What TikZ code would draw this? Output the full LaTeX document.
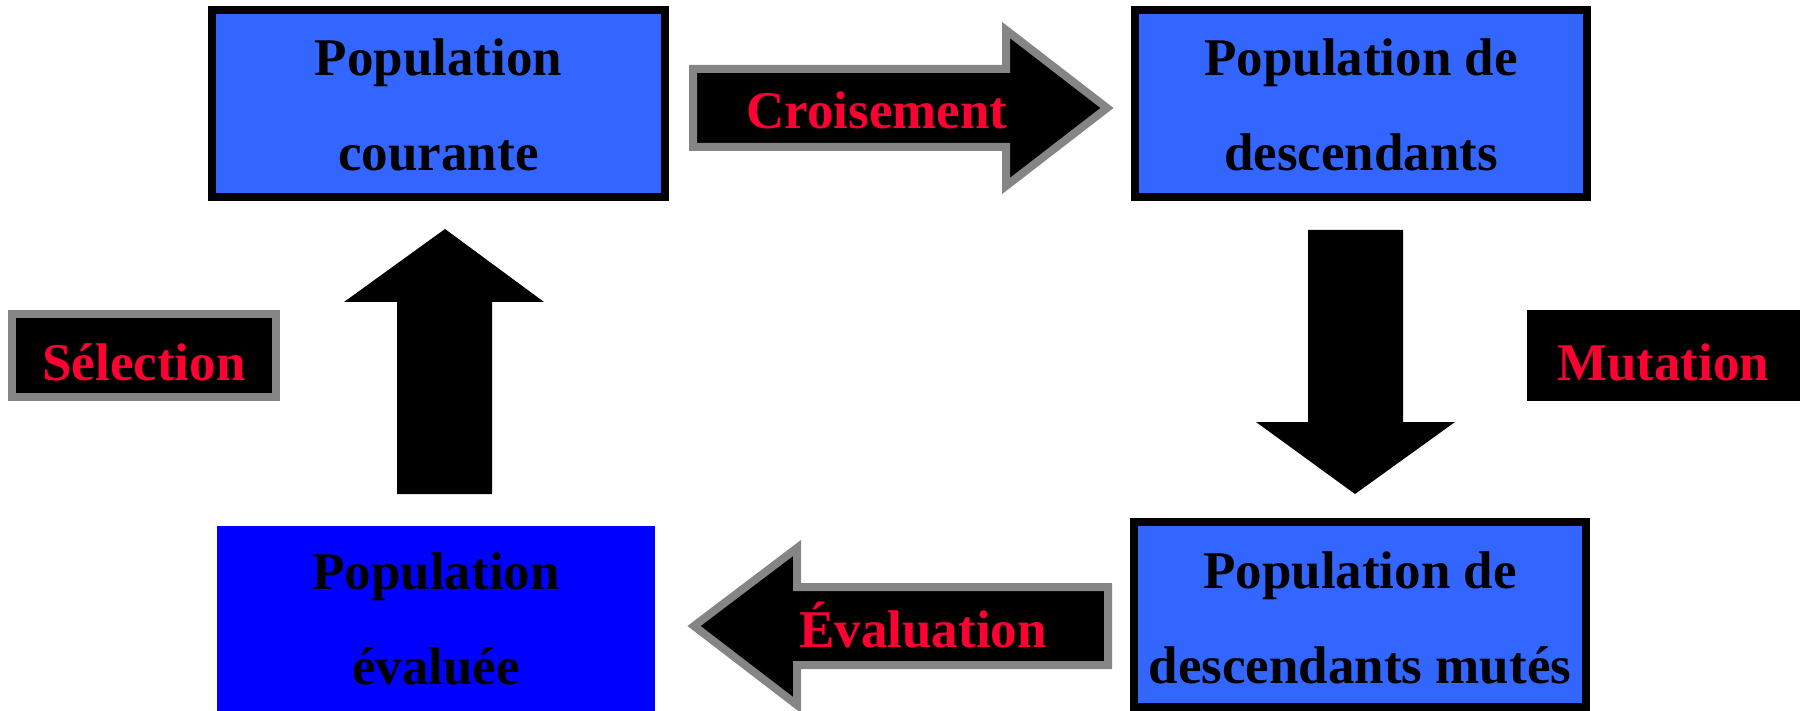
\documentclass[tikz,border=0pt]{standalone}
\usepackage{fontspec}
\setmainfont{Liberation Serif}
\definecolor{boxblue}{HTML}{3366FF}
\definecolor{pureblue}{HTML}{0000FF}
\definecolor{labred}{HTML}{FF0033}
\definecolor{bordgrey}{HTML}{858585}
\begin{document}
\begin{tikzpicture}[x=1pt,y=-1pt,
  popbox/.style={draw=black,line width=8pt,fill=boxblue},
  evalbox/.style={fill=pureblue},
  txt/.style={font=\fontsize{53}{60}\selectfont\bfseries,text=black,inner sep=0pt,anchor=base},
  lab/.style={font=\fontsize{53}{60}\selectfont\bfseries,text=labred,inner sep=0pt,anchor=base},
  greyarrow/.style={draw=bordgrey,line width=8pt,fill=black,line join=miter},
  blackarrow/.style={fill=black},
  labbox/.style={draw=bordgrey,line width=8pt,fill=black}]
\useasboundingbox (0,0) rectangle (1802,711);
% boxes
\draw[popbox] (212,10) rectangle (665,197);
\node[txt] (t1a) at (438.5,76) {Population};
\node[txt] (t1b) at (438.5,171) {courante};
\draw[popbox] (1135,10) rectangle (1587,197);
\node[txt] (t2a) at (1361,76) {Population de};
\node[txt] (t2b) at (1361,171) {descendants};
\draw[popbox] (1134,522) rectangle (1586,707);
\node[txt] (t3a) at (1360,588) {Population de};
\node[txt] (t3b) at (1360,683) {descendants mutés};
\fill[evalbox] (217,526) rectangle (655,711);
\node[txt] (t4a) at (436,589) {Population};
\node[txt] (t4b) at (436,684) {évaluée};
% Croisement arrow
\draw[greyarrow] (693,69) -- (1006,69) -- (1006,30) -- (1107,108) -- (1006,186) -- (1006,147) -- (693,147) -- cycle;
\node[lab] (lc) at (877,129) {Croisement};
% Evaluation arrow
\draw[greyarrow] (1108,587) -- (797,587) -- (797,548) -- (694,626) -- (797,705) -- (797,665) -- (1108,665) -- cycle;
\node[lab] (le) at (923,647) {Évaluation};
% Mutation arrow (down)
\fill[blackarrow] (1308,230) -- (1403,230) -- (1403,422) -- (1455,422) -- (1355,494) -- (1256,422) -- (1308,422) -- cycle;
\fill[black] (1527,310) rectangle (1800,401);
\node[lab] (lm) at (1663,380) {Mutation};
% Selection arrow (up)
\fill[blackarrow] (397,494) -- (492,494) -- (492,302) -- (544,302) -- (445,229) -- (344,302) -- (397,302) -- cycle;
\draw[labbox] (12,314) rectangle (276,397);
\node[lab] (ls) at (144,380) {Sélection};
\end{tikzpicture}
\end{document}
